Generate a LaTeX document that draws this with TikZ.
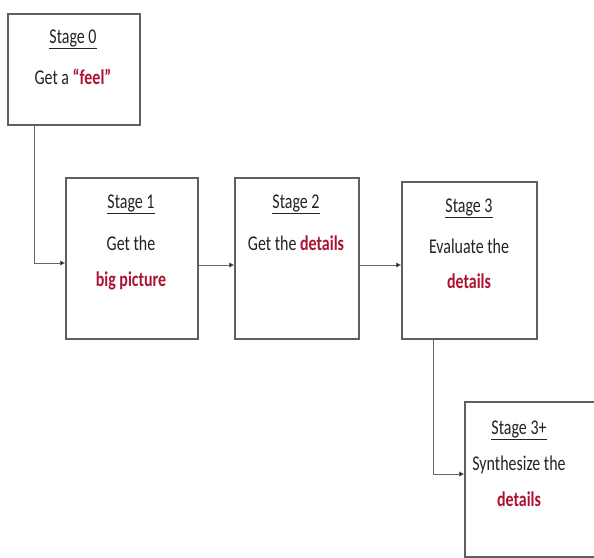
\documentclass[tikz,border=0pt]{standalone}
\usepackage{fontspec}
\setmainfont[FakeStretch=0.76]{Carlito}
\usetikzlibrary{arrows.meta}
\definecolor{txt}{RGB}{35,35,35}
\definecolor{hl}{RGB}{170,20,50}
\definecolor{edge}{RGB}{95,95,95}
\begin{document}
\begin{tikzpicture}[x=1pt,y=-1pt,
  box/.style={draw=edge,line width=1.6pt,inner sep=0pt,anchor=north west},
  lbl/.style={text=txt,font=\fontsize{21}{24}\selectfont,inner sep=0pt},
  conn/.style={draw=black!60,line width=0.8pt,-{Triangle[length=5pt,width=5pt,fill=black]}}]
\useasboundingbox (0,0) rectangle (594,557);
\begin{scope}
\clip (0,0) rectangle (594,557);
% boxes
\node[box,minimum width=132pt,minimum height=111pt] (b0) at (7,13) {};
\node[box,minimum width=132pt,minimum height=161pt] (b1) at (65,177) {};
\node[box,minimum width=124pt,minimum height=161pt] (b2) at (234,177) {};
\node[box,minimum width=135pt,minimum height=157pt] (b3) at (401,181) {};
\node[box,minimum width=140pt,minimum height=155pt] (b4) at (464,401) {};
\end{scope}
% texts
\node[lbl] (t0a) at (73,39) {\underline{Stage 0}};
\node[lbl] (t0b) at (73,77) {Get a \textbf{\color{hl}“feel”}};
\node[lbl] (t1a) at (131,204) {\underline{Stage 1}};
\node[lbl] (t1b) at (131,243) {Get the};
\node[lbl] (t1c) at (131,281) {\textbf{\color{hl}big picture}};
\node[lbl] (t2a) at (296,204) {\underline{Stage 2}};
\node[lbl] (t2b) at (296,243) {Get the \textbf{\color{hl}details}};
\node[lbl] (t3a) at (469,208) {\underline{Stage 3}};
\node[lbl] (t3b) at (469,246) {Evaluate the};
\node[lbl] (t3c) at (469,281) {\textbf{\color{hl}details}};
\node[lbl] (t4a) at (519,430) {\underline{Stage 3+}};
\node[lbl] (t4b) at (519,465) {Synthesize the};
\node[lbl] (t4c) at (519,499) {\textbf{\color{hl}details}};
% connectors
\coordinate (c0) at (34,263);
\coordinate (c1) at (0,265);
\coordinate (c3) at (433,474);
\draw[conn] (b0.south -| c0) |- (b1.west |- c0);
\draw[conn] (b1.east |- c1) -- (b2.west |- c1);
\draw[conn] (b2.east |- c1) -- (b3.west |- c1);
\draw[conn] (b3.south -| c3) |- (b4.west |- c3);
\end{tikzpicture}
\end{document}
